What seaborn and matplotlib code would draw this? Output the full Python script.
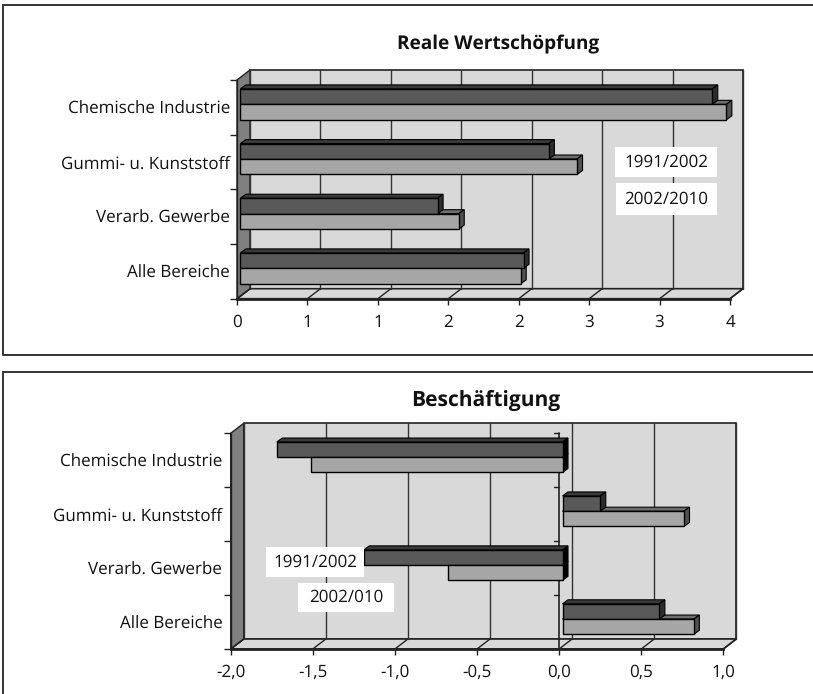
import matplotlib
matplotlib.use("Agg")
import matplotlib.pyplot as plt
from matplotlib.lines import Line2D
from matplotlib.patches import Polygon
from matplotlib.transforms import Affine2D, IdentityTransform
import pandas as pd
import seaborn as sns

W, H = 813, 694

categories = ["Chemische Industrie", "Gummi- u. Kunststoff", "Verarb. Gewerbe", "Alle Bereiche"]
periods = ["1991/2002", "2002/2010"]

# Reale Wertschoepfung
wert_early = [3.35, 2.19, 1.40, 2.01]
wert_late = [3.45, 2.39, 1.55, 1.99]
wert_ticks = [0, 0.5, 1, 1.5, 2, 2.5, 3, 3.5]
wert_labels = ["0", "1", "1", "2", "2", "3", "3", "4"]

# Beschaeftigung
besch_early = [-1.74, 0.23, -1.21, 0.59]
besch_late = [-1.53, 0.74, -0.70, 0.80]
besch_ticks = [-2, -1.5, -1, -0.5, 0, 0.5, 1]
besch_labels = ["-2,0", "-1,5", "-1,0", "-0,5", "0,0", "0,5", "1,0"]

DARK, LIGHT = "#595959", "#a6a6a6"
WALL, SIDE_WALL = "#d9d9d9", "#808080"
BACK = (13, 10)      # depth of the chart box in pixels
BAR_SHIFT = (3.4, 3) # bars sit a bit inside the box
BAR_DEPTH = (5.5, 4)
TEXT_SIZE = 12.1

sns.set_theme(style="white")
plt.rcParams["font.family"] = ["Open Sans", "DejaVu Sans"]
plt.rcParams["text.hinting"] = "no_hinting"
plt.rcParams["text.hinting_factor"] = 1


def fig_xy(x, y):
    return x / W, 1 - y / H


def draw_panel(fig, box, early, late, ticks, labels, xlim, title, title_xy, title_size, label_pad):
    left, right, top, bottom = box
    ax = fig.add_axes([left / W, 1 - bottom / H, (right - left) / W, (bottom - top) / H])
    ax.patch.set_visible(False)

    df = pd.DataFrame({
        "bereich": categories * 2,
        "periode": [periods[0]] * 4 + [periods[1]] * 4,
        "wert": early + late,
    })
    sns.barplot(data=df, y="bereich", x="wert", hue="periode", order=categories, hue_order=periods,
                palette=[DARK, LIGHT], saturation=1, width=0.565, edgecolor="black", linewidth=1,
                legend=False, ax=ax)
    ax.set_xlim(*xlim)
    ax.set_ylim(3.5, -0.5)
    ax.set_xlabel("")
    ax.set_ylabel("")

    back = ax.transData + Affine2D().translate(*BACK)
    x0, x1 = xlim
    # back wall, floor, left wall
    ax.add_patch(Polygon([(x0, 3.5), (x1, 3.5), (x1, -0.5), (x0, -0.5)], closed=True, transform=back,
                         fc=WALL, ec="#222222", lw=1.2, zorder=1, clip_on=False))
    corners = ax.transData.transform([(x0, 3.5), (x1, 3.5), (x0, -0.5)])
    dx, dy = BACK
    ax.add_patch(Polygon([corners[0], corners[1], corners[1] + (dx, dy), corners[0] + (dx, dy)], closed=True,
                         transform=IdentityTransform(), fc=WALL, ec="#222222", lw=1.2, zorder=1, clip_on=False))
    ax.add_patch(Polygon([corners[0], corners[2], corners[2] + (dx, dy), corners[0] + (dx, dy)], closed=True,
                         transform=IdentityTransform(), fc=SIDE_WALL, ec="#222222", lw=1, zorder=1.2, clip_on=False))
    # grid on wall and floor
    for t in ticks:
        ax.plot([t, t], [3.5, -0.5], transform=back, color="#333333", lw=1, zorder=1.5, clip_on=False)
        p = ax.transData.transform((t, 3.5))
        ax.plot([p[0], p[0] + dx], [p[1], p[1] + dy], transform=IdentityTransform(),
                color="#222222", lw=1, zorder=1.5, clip_on=False)

    # zero axis, only differs from the left edge when there are negative values
    if x0 < 0:
        ax.plot([0, 0], [3.5, -0.5], color="#222222", lw=1.2, zorder=2.5, clip_on=False)
        for edge in [-0.5, 0.5, 1.5, 2.5]:
            p = ax.transData.transform((0, edge))
            ax.plot([p[0] - 5, p[0]], [p[1], p[1]], transform=IdentityTransform(),
                    color="#222222", lw=1, zorder=2.5, clip_on=False)

    # bars with the fake 3d faces
    front = ax.transData + Affine2D().translate(*BAR_SHIFT)
    faces = [("#3a3a3a", "#2d2d2d"), ("#6e6e6e", "#505050")]
    for i, cont in enumerate(ax.containers):
        for bar in cont:
            bar.set_transform(front)
            bar.set_zorder(5)
            bar.set_clip_on(False)
            xa, ya, w, h = bar.get_x(), bar.get_y(), bar.get_width(), bar.get_height()
            xl, xr = min(xa, xa + w), max(xa, xa + w)
            yt = min(ya, ya + h)
            yb = max(ya, ya + h)
            a, b, c = front.transform([(xl, yt), (xr, yt), (xr, yb)])
            ddx, ddy = BAR_DEPTH
            z = 4 - i * 0.5
            ax.add_patch(Polygon([a, b, b + (ddx, ddy), a + (ddx, ddy)], closed=True,
                                 transform=IdentityTransform(), fc=faces[i][0], ec="black", lw=0.8,
                                 zorder=z, clip_on=False))
            end = "black" if xl < 0 else faces[i][1]
            ax.add_patch(Polygon([b, c, c + (ddx, ddy), b + (ddx, ddy)], closed=True,
                                 transform=IdentityTransform(), fc=end, ec="black", lw=0.8,
                                 zorder=z + 0.1, clip_on=False))

    sns.despine(ax=ax, top=True, right=True)
    ax.spines["bottom"].set(linewidth=2, color="#222222", zorder=2.6)
    ax.spines["left"].set(linewidth=1, color="#222222", zorder=2.6)
    ax.set_xticks(ticks, labels)
    ax.tick_params(axis="x", bottom=True, length=4, width=1, color="#222222", pad=7, labelsize=TEXT_SIZE, labelcolor="#111111")
    ax.set_yticks([-0.5, 0.5, 1.5, 2.5, 3.5], minor=True)
    ax.set_yticks(range(4), categories)
    ax.tick_params(axis="y", which="major", left=False, length=0, pad=label_pad, labelsize=TEXT_SIZE, labelcolor="#111111")
    ax.tick_params(axis="y", which="minor", left=True, length=5, width=1, color="#222222")
    fig.text(*fig_xy(*title_xy), title, ha="center", va="center", fontsize=title_size,
             fontweight="bold", color="#111111")
    return ax


def note(fig, x0, x1, y0, y1, text):
    # white label box that hides the chart below it
    x_mid, y_mid = fig_xy((x0 + x1) / 2, (y0 + y1) / 2)
    fig.patches.append(plt.Rectangle((x0 / W, 1 - y1 / H), (x1 - x0) / W, (y1 - y0) / H, fc="white", ec="none",
                                     transform=fig.transFigure, zorder=10))
    fig.text(x_mid, y_mid, text, ha="center", va="center", fontsize=TEXT_SIZE, color="#111111", zorder=11)


fig = plt.figure(figsize=(W / 100, H / 100), dpi=100, facecolor="white")

# outer frames, they run off the right side of the picture
frame = dict(color="#333333", lw=1.4, transform=fig.transFigure)
for xs, ys in [
    ([3, 3, W], [4.5, 355, 355]),
    ([3, W], [4.5, 4.5]),
    ([3, 3], [372, H]),
    ([3, W], [372, 372]),
]:
    fig.add_artist(Line2D([x / W for x in xs], [1 - y / H for y in ys], **frame))

draw_panel(fig, (237, 730, 80, 298.7), wert_early, wert_late, wert_ticks, wert_labels, (0, 3.5),
           "Reale Wertschöpfung", (498, 44), 13.7, 5)
draw_panel(fig, (230.7, 723.3, 433.3, 649), besch_early, besch_late, besch_ticks, besch_labels, (-2, 1),
           "Beschäftigung", (486, 400), 15.3, 6)

note(fig, 615, 717, 147, 177, "1991/2002")
note(fig, 616, 717, 183, 215, "2002/2010")
note(fig, 266, 364, 547, 577, "1991/2002")
note(fig, 298, 394, 583, 612, "2002/010")

fig.savefig("out.png", dpi=100)
